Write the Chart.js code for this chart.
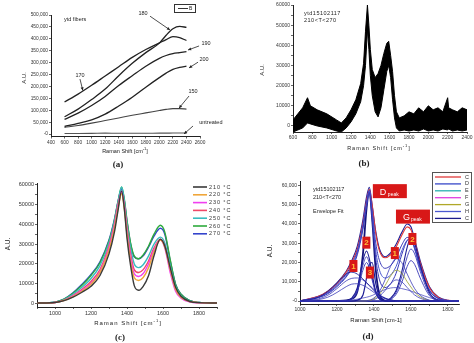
<!DOCTYPE html>
<html>
<head>
<meta charset="utf-8">
<script src="https://cdn.jsdelivr.net/npm/chart.js@4.4.0/dist/chart.umd.min.js"></script>
<style>
body { margin: 0; background: #fff; }
#page { position: relative; width: 474px; height: 343px; overflow: hidden; font-family: "Liberation Sans", Arial, sans-serif; color: #222; }
canvas { position: absolute; }
.t { position: absolute; white-space: nowrap; line-height: 1; }
.yt { transform: translate(-50%, -50%) rotate(-90deg); }
.xt { transform: translate(-50%, -50%); }
.lab { position: absolute; font-family: "Liberation Serif", serif; font-weight: bold; font-size: 9px; transform: translate(-50%, -50%); }
</style>
</head>
<body>
<div id="page">
  <canvas id="chartA" width="237" height="171" style="left:0;top:0"></canvas>
  <canvas id="chartB" width="237" height="171" style="left:237px;top:0"></canvas>
  <canvas id="chartC" width="237" height="172" style="left:0;top:171px"></canvas>
  <canvas id="chartD" width="237" height="172" style="left:237px;top:171px"></canvas>

  <!-- (a) -->
  <div class="t yt" style="left:24px;top:78px;font-size:6px">A.U.</div>
  <div class="t xt" style="left:125px;top:151px;font-size:5.5px">Raman Shift [cm<sup style="font-size:4px">-1</sup>]</div>
  <div class="lab" style="left:118px;top:164px">(a)</div>
  <div class="t" style="left:64px;top:17px;font-size:5.5px">ytd fibers</div>
  <div class="t" style="left:174px;top:4px;width:20px;height:7px;border:1px solid #333;font-size:5px">
    <span style="position:absolute;left:3px;top:3px;width:10px;border-top:1px solid #333"></span>
    <span style="position:absolute;left:14px;top:1px">B</span>
  </div>

  <!-- (b) -->
  <div class="t yt" style="left:262px;top:70px;font-size:6px">A.U.</div>
  <div class="t xt" style="left:379px;top:148px;font-size:5.5px;letter-spacing:1px">Raman Shift [cm<sup style="font-size:4px">-1</sup>]</div>
  <div class="lab" style="left:364px;top:163px">(b)</div>
  <div class="t" style="left:304px;top:11px;font-size:5.5px;letter-spacing:0.5px">ytd15102117</div>
  <div class="t" style="left:304px;top:18px;font-size:5.5px;letter-spacing:0.5px">210&lt;T&lt;270</div>

  <!-- (c) -->
  <div class="t yt" style="left:8px;top:244px;font-size:6.5px">A.U.</div>
  <div class="t xt" style="left:128px;top:322px;font-size:6px;letter-spacing:1px">Raman Shift [cm<sup style="font-size:4px">-1</sup>]</div>
  <div class="lab" style="left:120px;top:337px">(c)</div>

  <!-- (d) -->
  <div class="t yt" style="left:270px;top:251px;font-size:6.5px">A.U.</div>
  <div class="t xt" style="left:376px;top:320px;font-size:6px">Raman Shift [cm-1]</div>
  <div class="lab" style="left:368px;top:336px">(d)</div>
  <div class="t" style="left:313px;top:187px;font-size:5.5px">ytd15102117</div>
  <div class="t" style="left:313px;top:195px;font-size:5.5px">210&lt;T&lt;270</div>
  <div class="t" style="left:313px;top:209px;font-size:5.5px">Envelope Fit</div>
</div>

<script>
// ---------- (a) intensity of fibers at each treatment temperature ----------
const aShift = [600, 800, 1000, 1200, 1400, 1600, 1800, 2000, 2100, 2200, 2300, 2400];
const a170 = [135000, 168000, 205000, 244000, 283000, 322000, 355000, 383000, 397000, 409000, 405000, 393000];
const a180 = [73000, 105000, 145000, 189000, 245000, 297000, 342000, 382000, 415000, 442000, 452000, 448000];
const a190 = [62000, 88000, 120000, 158000, 204000, 245000, 285000, 318000, 330000, 338000, 342000, 346000];
const a200 = [32000, 45000, 60000, 84000, 118000, 155000, 197000, 237000, 256000, 272000, 280000, 285000];
const a150 = [28000, 36000, 46000, 57000, 68000, 79000, 89000, 99000, 104000, 107000, 107000, 105000];
const aUntreated = [2500, 2500, 3000, 4000, 3500, 3500, 3500, 4000, 4000, 4500, 4500, 4500];

// labels with arrows: [text, textX, textY, fromX, fromY, toX, toY]
const aNotes = [
  ['180', 1759, 508000, 1862, 495000, 2158, 437000],
  ['190', 2689, 382500, 2586, 370000, 2423, 353000],
  ['200', 2660, 315000, 2571, 302000, 2438, 278000],
  ['170', 828, 248000, 828, 231000, 870, 183000],
  ['150', 2497, 177000, 2438, 160000, 2290, 109000],
  ['untreated', 2760, 47000, 2497, 34000, 2364, 1000]
];

// ---------- (b) raw spectra, band between lowest and highest trace ----------
const bShift = [600, 650, 700, 750, 780, 850, 950, 1050, 1100, 1150, 1200, 1250, 1300, 1330, 1350,
  1370, 1385, 1400, 1420, 1450, 1480, 1510, 1540, 1570, 1590, 1610, 1630, 1650, 1670, 1700,
  1750, 1800, 1850, 1900, 1950, 2000, 2050, 2100, 2150, 2200, 2210, 2250, 2300, 2350, 2400];
const bUpper = [3000, 6000, 9000, 14000, 10000, 8000, 6000, 3000, 1500, 4000, 8000, 13000, 21000, 31000, 47000,
  60000, 50000, 38000, 28000, 24000, 26000, 30000, 36000, 41000, 42000, 35000, 27000, 15000, 7000, 4000,
  5000, 7000, 6000, 9000, 7000, 10000, 8000, 9000, 7000, 14000, 9000, 8000, 7000, 9000, 8000];
const bLower = [-3000, -2000, -1000, 1500, 1000, 0, -1000, -2500, -3000, -1000, 2000, 6000, 12000, 20000, 30000,
  48000, 38000, 25000, 15000, 7000, 4500, 9000, 18000, 27000, 30000, 24000, 13000, 4000, -1000, -2500,
  -2000, -2500, -2000, -2500, -1500, -2500, -2000, -2500, -1500, -2000, -1500, -2500, -2000, -2500, -2000];
const bRedShift = [1290, 1320, 1345, 1362, 1430, 1500, 1530, 1560, 1585];
const bRed = [15000, 24000, 38000, 52000, null, 24000, 28000, 35000, 40000];

// ---------- (c) spectra per treatment temperature ----------
const cShift = [900, 1000, 1050, 1100, 1150, 1200, 1250, 1300, 1330, 1350, 1370, 1385, 1400, 1420, 1440,
  1465, 1490, 1520, 1550, 1585, 1610, 1640, 1670, 1700, 1750, 1800, 1900];
const cLabels = ['210 °C', '220 °C', '230 °C', '240 °C', '250 °C', '260 °C', '270 °C'];
const cColors = ['#3a3a3a', '#f0a63a', '#f040f0', '#f04868', '#38bcc0', '#2eaa3c', '#3444cc'];
const c210 = [0, 300, 1200, 3000, 5500, 8500, 14000, 25000, 36000, 47000, 57000, 48000, 33000, 19000, 9000,
  6500, 8500, 14000, 24000, 32500, 29000, 18000, 8000, 3500, 800, 200, 0];
const c220 = [0, 300, 1300, 3300, 6000, 9500, 15500, 27000, 38000, 48000, 55500, 48000, 35000, 21000, 13000,
  11500, 13000, 18000, 26000, 32000, 28500, 17000, 7000, 3000, 700, 200, 0];
const c230 = [0, 300, 1400, 3500, 6500, 10000, 16000, 28000, 39000, 49000, 57000, 49500, 36500, 23000, 15000,
  13500, 15000, 20000, 27000, 32000, 28000, 15500, 6000, 2500, 500, 100, 0];
const c240 = [0, 300, 1500, 3800, 7000, 11000, 17000, 29000, 40000, 50000, 56000, 50000, 38000, 25000, 17000,
  15500, 17000, 21500, 28000, 32500, 29000, 17000, 7000, 3000, 700, 200, 0];
const c250 = [0, 400, 1800, 4500, 8000, 12500, 19000, 30500, 41500, 51000, 59000, 52000, 40000, 28000, 20000,
  18000, 19500, 24000, 30000, 33500, 30500, 19000, 8500, 3800, 1000, 300, 0];
const c260 = [0, 500, 2000, 5000, 9000, 14000, 20500, 31500, 42000, 51500, 59000, 53000, 42000, 30500, 24000,
  22500, 24500, 29000, 35000, 39500, 36000, 22000, 9500, 4500, 1200, 300, 0];
const c270 = [0, 500, 2000, 5200, 9500, 14500, 21000, 32000, 42500, 51500, 58000, 52000, 41500, 30000, 23500,
  22500, 24000, 28500, 34000, 38000, 35000, 21500, 9500, 4500, 1200, 300, 0];

// ---------- (d) envelope fits and fitted bands ----------
const dShift = [1000, 1100, 1150, 1200, 1250, 1280, 1310, 1340, 1360, 1375, 1390, 1410, 1430, 1460, 1490,
  1520, 1550, 1580, 1600, 1620, 1650, 1700, 1750, 1800, 1860];
const dEnvRed = [200, 2500, 5000, 9000, 15000, 20000, 27000, 40000, 52000, 58000, 50000, 35000, 26000, 22500, 24000,
  28000, 34000, 38500, 37000, 31000, 20000, 7000, 1800, 400, 0];
const dEnvNavy = [200, 2500, 5200, 9500, 15500, 21000, 28500, 42000, 54000, 59000, 50000, 36000, 27000, 23000, 25000,
  29500, 35500, 40000, 38500, 32000, 21000, 7500, 2000, 400, 0];
const dEnvBlue1 = [150, 2200, 4500, 8500, 14000, 19000, 26000, 39000, 51000, 57500, 47000, 30000, 21000, 17000, 18500,
  22500, 29000, 33000, 32000, 27000, 17000, 5500, 1300, 300, 0];
const dEnvBlue2 = [150, 2000, 4200, 8000, 13000, 18000, 25000, 38000, 50000, 57000, 45000, 26000, 16000, 12000, 13500,
  18000, 26000, 31500, 32000, 27500, 17500, 5500, 1300, 300, 0];
const dEnvBlue3 = [100, 1800, 3800, 7500, 12500, 17000, 24000, 37000, 49500, 56500, 43000, 22000, 11000, 7000, 9000,
  14500, 24000, 31500, 32500, 28000, 18000, 5800, 1300, 300, 0];
const dMain = [0, 0, 0, 100, 400, 1200, 5000, 24000, 48000, 57000, 43000, 16000, 3500, 300, 0,
  0, 0, 0, 0, 0, 0, 0, 0, 0, 0];
const dD1a = [100, 2000, 5000, 9500, 14000, 15000, 14000, 11500, 9500, 8000, 6500, 4500, 3000, 1500, 600,
  200, 0, 0, 0, 0, 0, 0, 0, 0, 0];
const dD1b = [50, 1200, 3000, 6500, 10500, 11800, 12000, 11000, 9500, 8200, 7000, 5000, 3400, 1600, 600,
  200, 0, 0, 0, 0, 0, 0, 0, 0, 0];
const dD1c = [0, 800, 2000, 4500, 7500, 8800, 9000, 8200, 7200, 6200, 5200, 3800, 2500, 1200, 500,
  150, 0, 0, 0, 0, 0, 0, 0, 0, 0];
const dD2a = [0, 0, 0, 0, 200, 1500, 7000, 21000, 26000, 22000, 14000, 5000, 1200, 100, 0,
  0, 0, 0, 0, 0, 0, 0, 0, 0, 0];
const dD2b = [0, 0, 0, 0, 150, 1200, 6000, 18500, 23000, 19500, 12500, 4500, 1000, 100, 0,
  0, 0, 0, 0, 0, 0, 0, 0, 0, 0];
const dD2c = [0, 0, 0, 0, 100, 1000, 5000, 16000, 20000, 17000, 11000, 4000, 900, 100, 0,
  0, 0, 0, 0, 0, 0, 0, 0, 0, 0];
const dD3 = [0, 0, 0, 0, 0, 0, 500, 3000, 12000, 19000, 20000, 9000, 2000, 100, 0,
  0, 0, 0, 0, 0, 0, 0, 0, 0, 0];
const dG1a = [0, 0, 0, 0, 0, 0, 0, 0, 200, 500, 1000, 2500, 5000, 11000, 18000,
  22000, 20000, 14000, 10000, 6500, 3000, 500, 0, 0, 0];
const dG1b = [0, 0, 0, 0, 0, 0, 0, 0, 150, 350, 700, 1800, 3600, 8000, 13000,
  16000, 14500, 10000, 7300, 4700, 2200, 350, 0, 0, 0];
const dG1c = [0, 0, 0, 0, 0, 0, 0, 0, 100, 250, 500, 1200, 2500, 5500, 9000,
  11000, 10000, 7000, 5000, 3200, 1500, 250, 0, 0, 0];
const dG2a = [0, 0, 0, 0, 0, 0, 0, 0, 0, 0, 0, 0, 0, 200, 1500,
  5500, 15000, 28000, 33000, 30000, 19000, 4500, 500, 0, 0];
const dG2b = [0, 0, 0, 0, 0, 0, 0, 0, 0, 0, 0, 0, 0, 150, 1200,
  4500, 12500, 23000, 27000, 24500, 15500, 3700, 400, 0, 0];
const dG2c = [0, 0, 0, 0, 0, 0, 0, 0, 0, 0, 0, 0, 0, 100, 900,
  3500, 9500, 18000, 21000, 19000, 12000, 2900, 300, 0, 0];
const dBroad = [0, 0, 0, 100, 300, 600, 1000, 1600, 2000, 2400, 2900, 3800, 4700, 6000, 6800,
  7000, 6500, 5800, 5200, 4500, 3500, 1800, 700, 200, 0];
const dLegendLabels = ['C', 'D', 'E', 'F', 'G', 'H', 'C'];
const dLegendColors = ['#e03a3a', '#3848c8', '#2ab0b0', '#e040e0', '#b0a828', '#4a58d0', '#1c1c8c'];
// tags: [text, subscript, x, y, kind]
const dTags = [
  ['D', 'peak', 1486, 57000, 'big'],
  ['G', 'peak', 1611, 43800, 'big'],
  ['2', '', 1359, 30300, 'num'],
  ['1', '', 1513, 24900, 'num'],
  ['2', '', 1608, 32200, 'num'],
  ['1', '', 1289, 18200, 'num'],
  ['3', '', 1378, 14800, 'num']
];

Chart.defaults.font.family = '"Liberation Sans", Arial, sans-serif';
Chart.defaults.color = '#333';

function pts(xs, ys) {
  return xs.map((x, i) => ({ x: x, y: ys[i] }));
}

// ticks on every multiple of step inside the range (none below zero)
function axis(min, max, step, every, fmt, size, fixed, isY) {
  return {
    type: 'linear', min: min, max: max,
    afterBuildTicks: s => {
      const out = [];
      for (let v = Math.ceil(min / step) * step; v <= max + 1e-6; v += step) {
        if (v >= 0) out.push({ value: v });
      }
      s.ticks = out;
    },
    afterFit: s => { if (isY) s.width = fixed; else s.height = fixed; },
    ticks: {
      stepSize: step, autoSkip: false, includeBounds: false, maxRotation: 0, padding: 1,
      font: { size: size }, color: '#333',
      callback: v => (v % every === 0 ? fmt(v) : '')
    },
    grid: { drawOnChartArea: false, drawTicks: true, tickLength: 2, color: '#222', lineWidth: 0.7 },
    border: { color: '#222', width: 1 }
  };
}

const plain = v => String(v);
const comma = v => v.toLocaleString('en-US');

function line(data, color, width) {
  return {
    data: data, borderColor: color, borderWidth: width, pointRadius: 0,
    fill: false, cubicInterpolationMode: 'monotone'
  };
}

function baseOptions(pad, xs, ys) {
  return {
    responsive: false, animation: false, devicePixelRatio: 1,
    layout: { padding: pad },
    plugins: { legend: { display: false }, tooltip: { enabled: false } },
    scales: { x: xs, y: ys }
  };
}

// arrows and labels placed in data units
function arrowNotes(notes) {
  return {
    id: 'arrowNotes',
    afterDatasetsDraw(chart) {
      const { ctx, scales: { x, y } } = chart;
      ctx.save();
      ctx.strokeStyle = '#222';
      ctx.fillStyle = '#222';
      ctx.lineWidth = 0.8;
      ctx.font = '5.5px "Liberation Sans", Arial';
      ctx.textAlign = 'center';
      ctx.textBaseline = 'middle';
      notes.forEach(n => {
        ctx.fillText(n[0], x.getPixelForValue(n[1]), y.getPixelForValue(n[2]));
        const x0 = x.getPixelForValue(n[3]), y0 = y.getPixelForValue(n[4]);
        const x1 = x.getPixelForValue(n[5]), y1 = y.getPixelForValue(n[6]);
        ctx.beginPath();
        ctx.moveTo(x0, y0);
        ctx.lineTo(x1, y1);
        ctx.stroke();
        const ang = Math.atan2(y1 - y0, x1 - x0);
        ctx.beginPath();
        ctx.moveTo(x1, y1);
        ctx.lineTo(x1 - 3.5 * Math.cos(ang - 0.45), y1 - 3.5 * Math.sin(ang - 0.45));
        ctx.lineTo(x1 - 3.5 * Math.cos(ang + 0.45), y1 - 3.5 * Math.sin(ang + 0.45));
        ctx.closePath();
        ctx.fill();
      });
      ctx.restore();
    }
  };
}

// ---------- chart (a) ----------
new Chart(document.getElementById('chartA'), {
  type: 'line',
  data: {
    datasets: [
      line(pts(aShift, a170), '#222', 1.3),
      line(pts(aShift, a180), '#222', 1.3),
      line(pts(aShift, a190), '#222', 1.3),
      line(pts(aShift, a200), '#222', 1.3),
      line(pts(aShift, a150), '#444', 1.1),
      line(pts(aShift, aUntreated), '#555', 1.1)
    ]
  },
  options: baseOptions({ left: 0, top: 15, right: 37, bottom: 24.5 },
    axis(400, 2600, 200, 200, plain, 4.8, 10, false),
    axis(-10000, 500000, 50000, 50000, comma, 4.8, 51, true)),
  plugins: [arrowNotes(aNotes)]
});

// ---------- chart (b) ----------
new Chart(document.getElementById('chartB'), {
  type: 'line',
  data: {
    datasets: [
      { data: pts(bShift, bUpper), borderColor: '#000', borderWidth: 1, pointRadius: 0, fill: false, tension: 0 },
      { data: pts(bShift, bLower), borderColor: '#000', borderWidth: 1, pointRadius: 0, fill: '-1', backgroundColor: '#000', tension: 0 },
      { data: pts(bRedShift, bRed), borderColor: '#e03030', borderWidth: 0.8, pointRadius: 0, fill: false, spanGaps: false, tension: 0.2 }
    ]
  },
  options: baseOptions({ left: 0, top: 5, right: 7, bottom: 27 },
    axis(600, 2400, 200, 200, plain, 5, 12, false),
    axis(-3000, 60000, 5000, 10000, plain, 5, 56, true))
});

// ---------- chart (c) ----------
const cSeries = [c210, c220, c230, c240, c250, c260, c270];
const cLegend = {
  id: 'cLegend',
  afterDatasetsDraw(chart) {
    const ctx = chart.ctx;
    ctx.save();
    ctx.font = '5.5px "Liberation Sans", Arial';
    ctx.letterSpacing = '0.9px';
    ctx.textBaseline = 'middle';
    ctx.fillStyle = '#333';
    chart.data.datasets.forEach((ds, i) => {
      const yy = 16 + i * 7.8;
      ctx.strokeStyle = ds.borderColor;
      ctx.lineWidth = 1.6;
      ctx.beginPath();
      ctx.moveTo(193, yy);
      ctx.lineTo(207, yy);
      ctx.stroke();
      ctx.fillText(ds.label, 209, yy);
    });
    ctx.restore();
  }
};
new Chart(document.getElementById('chartC'), {
  type: 'line',
  data: {
    datasets: cSeries.map((s, i) => Object.assign(line(pts(cShift, s), cColors[i], 1.4), { label: cLabels[i] }))
  },
  options: baseOptions({ left: 0, top: 12, right: 20, bottom: 24 },
    axis(900, 1900, 100, 200, plain, 5.5, 12, false),
    axis(-2000, 61000, 5000, 10000, plain, 5.5, 37, true)),
  plugins: [cLegend]
});

// ---------- chart (d) ----------
const navy = '#1e1e96';
const blue = '#3a3ab8';
const dDatasets = [
  line(pts(dShift, dBroad), blue, 0.7),
  line(pts(dShift, dD1a), navy, 0.9),
  line(pts(dShift, dD1b), blue, 0.8),
  line(pts(dShift, dD1c), blue, 0.8),
  line(pts(dShift, dD2a), navy, 1.1),
  line(pts(dShift, dD2b), blue, 0.9),
  line(pts(dShift, dD2c), blue, 0.9),
  line(pts(dShift, dD3), navy, 1.2),
  line(pts(dShift, dG1a), blue, 0.8),
  line(pts(dShift, dG1b), '#9aa030', 0.8),
  line(pts(dShift, dG1c), blue, 0.8),
  line(pts(dShift, dG2a), navy, 1.1),
  line(pts(dShift, dG2b), blue, 0.9),
  line(pts(dShift, dG2c), blue, 0.9),
  line(pts(dShift, dEnvBlue3), blue, 1.0),
  line(pts(dShift, dEnvBlue2), '#4a58d0', 1.0),
  line(pts(dShift, dEnvBlue1), blue, 1.0),
  line(pts(dShift, dEnvRed), '#e03a3a', 1.1),
  line(pts(dShift, dEnvNavy), navy, 1.1),
  line(pts(dShift, dMain), '#14147a', 1.8)
];
const dDecor = {
  id: 'dDecor',
  afterDatasetsDraw(chart) {
    const { ctx, scales: { x, y } } = chart;
    ctx.save();
    // tags on the peaks
    dTags.forEach(t => {
      const cx = x.getPixelForValue(t[2]), cy = y.getPixelForValue(t[3]);
      if (t[4] === 'big') {
        ctx.fillStyle = '#d81818';
        ctx.fillRect(cx - 17, cy - 7, 34, 14);
        ctx.fillStyle = '#fff';
        ctx.textBaseline = 'alphabetic';
        ctx.textAlign = 'left';
        ctx.font = '9px "Liberation Sans", Arial';
        ctx.fillText(t[0], cx - 10, cy + 3.5);
        ctx.font = '5px "Liberation Sans", Arial';
        ctx.fillText(t[1], cx - 2, cy + 4.5);
      } else {
        ctx.fillStyle = '#d81818';
        ctx.fillRect(cx - 4, cy - 6, 8, 12);
        ctx.fillStyle = '#ffc03a';
        ctx.textAlign = 'center';
        ctx.textBaseline = 'middle';
        ctx.font = 'bold 8px "Liberation Sans", Arial';
        ctx.fillText(t[0], cx, cy + 0.5);
      }
    });
    // legend box
    ctx.fillStyle = '#fff';
    ctx.fillRect(195, 1, 40, 51);
    ctx.strokeStyle = '#555';
    ctx.lineWidth = 1;
    ctx.strokeRect(195.5, 1.5, 39, 50);
    ctx.font = '5.5px "Liberation Sans", Arial';
    ctx.textAlign = 'left';
    ctx.textBaseline = 'middle';
    dLegendLabels.forEach((lab, i) => {
      const yy = 6 + i * 6.9;
      ctx.strokeStyle = dLegendColors[i];
      ctx.lineWidth = 1.3;
      ctx.beginPath();
      ctx.moveTo(198, yy);
      ctx.lineTo(224, yy);
      ctx.stroke();
      ctx.fillStyle = '#333';
      ctx.fillText(lab, 228, yy);
    });
    ctx.restore();
  }
};
new Chart(document.getElementById('chartD'), {
  type: 'line',
  data: { datasets: dDatasets },
  options: baseOptions({ left: 0, top: 10.5, right: 15, bottom: 27 },
    axis(1000, 1860, 100, 200, plain, 5, 12, false),
    axis(-1500, 62000, 5000, 10000, comma, 5, 63, true)),
  plugins: [dDecor]
});
</script>
</body>
</html>
